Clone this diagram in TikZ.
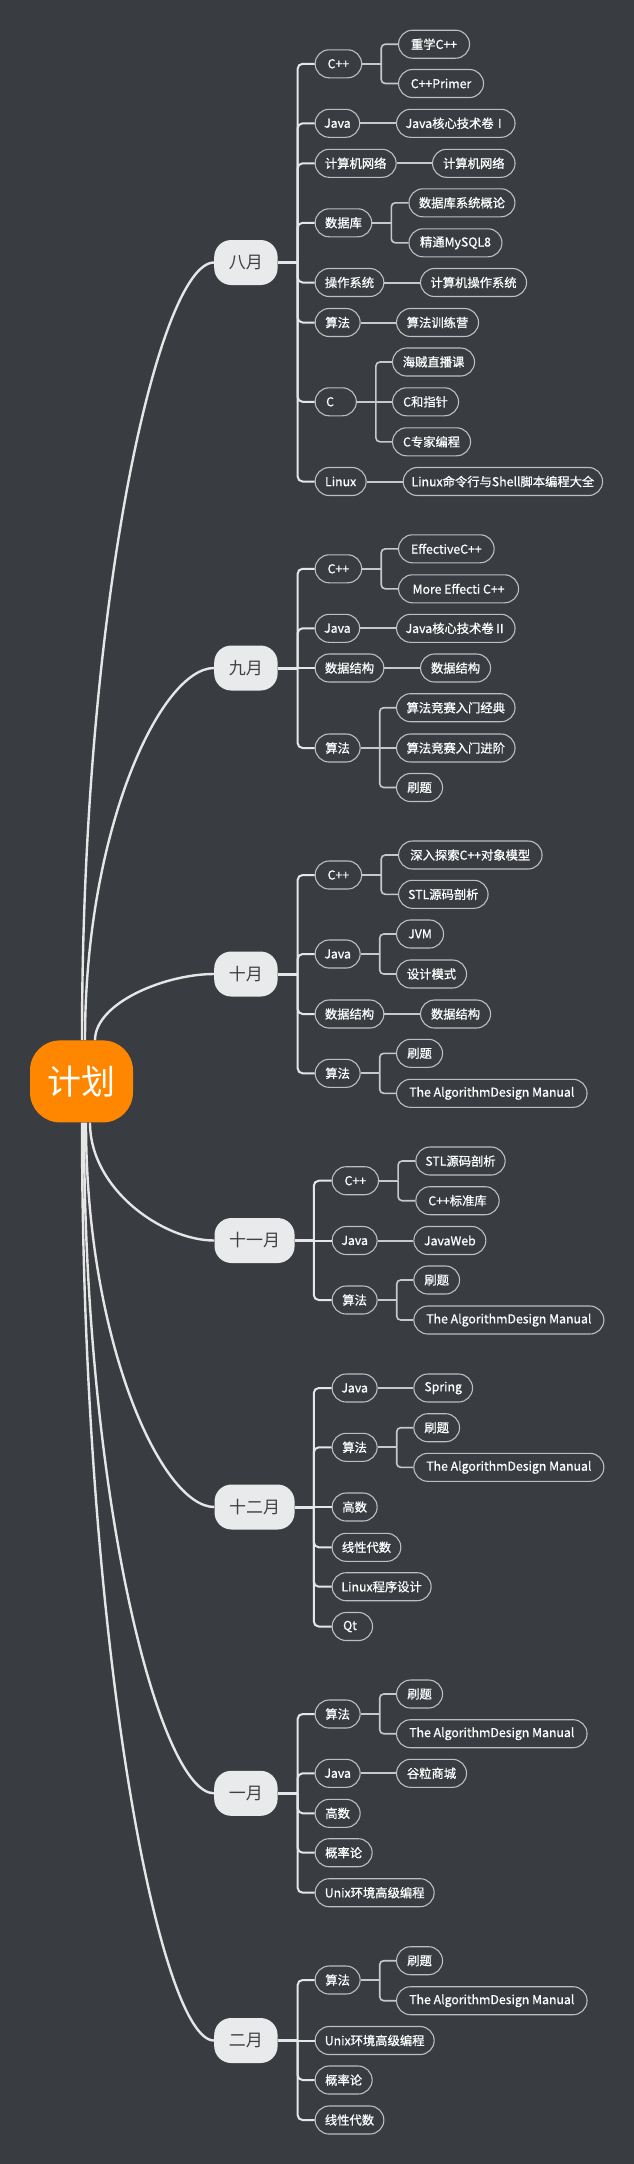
\documentclass[tikz,border=0pt]{standalone}
\usepackage{fontspec}
\setmainfont{Noto Sans CJK SC}
\newfontfamily\subfont{Noto Sans CJK SC}[FakeBold=0.8]
\usetikzlibrary{calc}
\definecolor{bg}{HTML}{393C41}
\definecolor{lineC}{HTML}{E6E6E6}
\definecolor{leafC}{HTML}{C8C8C8}
\definecolor{subline}{HTML}{BEBEBE}
\definecolor{monthfill}{HTML}{E9EAEC}
\definecolor{monthtext}{HTML}{404040}
\definecolor{orangeA}{HTML}{FF8700}
\newcommand\Sub[5]{\node[sub,minimum width=#3pt] (#1) at (#2,#4) {#5};}
\newcommand\Grp[2]{\coordinate (#1j) at ([xshift=19pt]#1.east);
  \draw[leafstub] (#1.east) -- (#1j);
  \foreach \cc in {#2} {\draw[leafline] (#1j) |- (\cc.west);}}
\newcommand\Mid[2]{\draw[leafline] (#1j) -- (#2.west);}
\newcommand\One[2]{\draw[leafstub] (#1.east) -- (#2.west);}
\newcommand\Trk[2]{\foreach \cc in {#2} {\draw[trunk] (#1) |- (\cc.west);}}
\newcommand\TrkMid[2]{\draw[trunk] (#1) -- (#2.west);}
\begin{document}
\begin{tikzpicture}[x=1pt,y=-1pt,
  sub/.style={draw=subline, line width=1.1pt, fill=bg, rounded corners=14pt,
    minimum height=28pt, inner sep=0pt, text=white,
    font=\subfont\fontsize{12.3}{14}\selectfont, anchor=west},
  month/.style={fill=monthfill, rounded corners=17pt, minimum height=45pt,
    inner sep=0pt, text=monthtext, font=\fontsize{17}{20}\selectfont, anchor=west},
  root/.style={fill=orangeA, rounded corners=30pt, minimum width=103pt,
    minimum height=82pt, inner sep=0pt, text=white, font=\fontsize{34}{40}\selectfont},
  mainline/.style={draw=lineC, line width=2.4pt},
  stub/.style={draw=lineC, line width=3pt},
  trunk/.style={draw=lineC, line width=2pt, rounded corners=5pt},
  leafstub/.style={draw=leafC, line width=2pt},
  leafline/.style={draw=leafC, line width=1.6pt, rounded corners=4pt}]
\fill[bg] (0,0) rectangle (634,2164);
\useasboundingbox (0,0) rectangle (634,2164);

% root
\node[root] (root) at (81.5,1081.4) {计划};

% months
\node[month,minimum width=63.4pt] (m8) at (214,262.5) {八月};
\node[month,minimum width=63.4pt] (m9) at (214,668) {九月};
\node[month,minimum width=63.4pt] (m10) at (214,974) {十月};
\node[month,minimum width=80.1pt] (m11) at (214.3,1240.5) {十一月};
\node[month,minimum width=80.1pt] (m12) at (214.3,1507) {十二月};
\node[month,minimum width=63.4pt] (m1) at (214,1793.3) {一月};
\node[month,minimum width=63.4pt] (m2) at (214,2040.5) {二月};

% root curves
\draw[mainline] ([xshift=0.5pt]root.north) .. controls (82,597.3) and (159.9,262.5) .. (m8.west);
\draw[mainline] ([xshift=3.5pt]root.north) .. controls (85,828.4) and (161.1,668) .. (m9.west);
\draw[mainline] ([xshift=13.5pt]root.north) .. controls (95,1002.8) and (165.2,974) .. (m10.west);
\draw[mainline] ([xshift=8.5pt]root.south) .. controls (90,1189.5) and (163.2,1240.5) .. (m11.west);
\draw[mainline] ([xshift=4.5pt]root.south) .. controls (86,1341.5) and (161.5,1507) .. (m12.west);
\draw[mainline] ([xshift=2.5pt]root.south) .. controls (84,1504.6) and (160.7,1793.3) .. (m1.west);
\draw[mainline] ([xshift=0.5pt]root.south) .. controls (82,1645.5) and (159.9,2040.5) .. (m2.west);

% ===== 八月
\Sub{a1}{314.6}{46.5}{63.8}{C++}
\Sub{a1a}{398}{71}{44.2}{重学C++}
\Sub{a1b}{398}{85}{83.5}{C++Primer}
\Sub{a2}{314.6}{44.5}{123.3}{Java}
\Sub{a2a}{396}{118.5}{123.3}{Java核心技术卷Ⅰ}
\Sub{a3}{314.6}{81}{163.3}{计算机网络}
\Sub{a3a}{432}{82.5}{163.3}{计算机网络}
\Sub{a4}{314.6}{56.6}{222.8}{数据库}
\Sub{a4a}{408.4}{106}{202.8}{数据库系统概论}
\Sub{a4b}{408.4}{93}{242.8}{精通MySQL8}
\Sub{a5}{314.6}{68.7}{282.5}{操作系统}
\Sub{a5a}{420}{106}{282.5}{计算机操作系统}
\Sub{a6}{314.6}{45}{322.5}{算法}
\Sub{a6a}{396}{82}{322.5}{算法训练营}
\Sub{a7}{314.6}{41.2}{401.8}{\makebox[19.2pt][l]{C}}
\Sub{a7a}{392}{82}{362}{海贼直播课}
\Sub{a7b}{392}{66}{401.8}{C和指针}
\Sub{a7c}{392}{78}{441.8}{C专家编程}
\Sub{a8}{314.6}{51}{481.5}{Linux}
\Sub{a8a}{402.7}{199.3}{481.5}{Linux命令行与Shell脚本编程大全}
\coordinate (t8) at ([xshift=19.8pt]m8.east);
\draw[stub] (m8.east) -- (t8);
\Trk{t8}{a1,a2,a3,a4,a5,a6,a7,a8}
\Grp{a1}{a1a,a1b}
\One{a2}{a2a}
\One{a3}{a3a}
\Grp{a4}{a4a,a4b}
\One{a5}{a5a}
\One{a6}{a6a}
\Grp{a7}{a7a,a7c}
\Mid{a7}{a7b}
\One{a8}{a8a}

% ===== 九月
\Sub{b1}{314.6}{46.5}{568.8}{C++}
\Sub{b1a}{398}{95.6}{548.8}{EffectiveC++}
\Sub{b1b}{398}{120}{588.8}{More Effecti C++}
\Sub{b2}{314.6}{44.5}{628.3}{Java}
\Sub{b2a}{396}{118.5}{628.3}{Java核心技术卷Ⅱ}
\Sub{b3}{314.6}{68.7}{668}{数据结构}
\Sub{b3a}{420}{70}{668}{数据结构}
\Sub{b4}{314.6}{45}{748}{算法}
\Sub{b4a}{396}{118.5}{707.7}{算法竞赛入门经典}
\Sub{b4b}{396}{118.5}{748}{算法竞赛入门进阶}
\Sub{b4c}{396}{46}{787.5}{刷题}
\coordinate (t9) at ([xshift=19.8pt]m9.east);
\draw[stub] (m9.east) -- (t9);
\Trk{t9}{b1,b2,b4}
\TrkMid{t9}{b3}
\Grp{b1}{b1a,b1b}
\One{b2}{b2a}
\One{b3}{b3a}
\Grp{b4}{b4a,b4c}
\Mid{b4}{b4b}

% ===== 十月
\Sub{c1}{314.6}{46.5}{875}{C++}
\Sub{c1a}{398}{143.5}{855}{深入探索C++对象模型}
\Sub{c1b}{398}{89.5}{894.3}{STL源码剖析}
\Sub{c2}{314.6}{45}{954}{Java}
\Sub{c2a}{396}{47}{934}{JVM}
\Sub{c2b}{396}{70}{974}{设计模式}
\Sub{c3}{314.6}{68.7}{1014}{数据结构}
\Sub{c3a}{420}{70}{1014}{数据结构}
\Sub{c4}{314.6}{45}{1073.3}{算法}
\Sub{c4a}{396}{46}{1053.3}{刷题}
\Sub{c4b}{396}{190.5}{1093.3}{The AlgorithmDesign Manual}
\coordinate (t10) at ([xshift=19.8pt]m10.east);
\draw[stub] (m10.east) -- (t10);
\Trk{t10}{c1,c2,c3,c4}
\Grp{c1}{c1a,c1b}
\Grp{c2}{c2a,c2b}
\One{c3}{c3a}
\Grp{c4}{c4a,c4b}

% ===== 十一月
\Sub{d1}{331.6}{46.4}{1180.7}{C++}
\Sub{d1a}{415.3}{89.3}{1161}{STL源码剖析}
\Sub{d1b}{415.3}{83.3}{1200.7}{C++标准库}
\Sub{d2}{331.6}{45}{1240.5}{Java}
\Sub{d2a}{413.3}{72}{1240.5}{JavaWeb}
\Sub{d3}{331.6}{45}{1300}{算法}
\Sub{d3a}{413.3}{45.7}{1280}{刷题}
\Sub{d3b}{413.3}{190}{1320}{The AlgorithmDesign Manual}
\coordinate (t11) at ([xshift=19pt]m11.east);
\draw[stub] (m11.east) -- (t11);
\Trk{t11}{d1,d3}
\TrkMid{t11}{d2}
\Grp{d1}{d1a,d1b}
\One{d2}{d2a}
\Grp{d3}{d3a,d3b}

% ===== 十二月
\Sub{e1}{331.6}{45}{1388}{Java}
\Sub{e1a}{413.3}{58.7}{1388}{Spring}
\Sub{e2}{331.6}{45}{1447.3}{算法}
\Sub{e2a}{413.3}{45.7}{1427.7}{刷题}
\Sub{e2b}{413.3}{190}{1467.3}{The AlgorithmDesign Manual}
\Sub{e3}{331.6}{45}{1507}{高数}
\Sub{e4}{331.6}{68.7}{1547.3}{线性代数}
\Sub{e5}{331.6}{99}{1586.7}{Linux程序设计}
\Sub{e6}{331.6}{40.4}{1626.5}{\makebox[18.4pt][l]{Qt}}
\coordinate (t12) at ([xshift=19pt]m12.east);
\draw[stub] (m12.east) -- (t12);
\Trk{t12}{e1,e2,e4,e5,e6}
\TrkMid{t12}{e3}
\One{e1}{e1a}
\Grp{e2}{e2a,e2b}

% ===== 一月
\Sub{f1}{314.6}{45}{1714}{算法}
\Sub{f1a}{396}{46}{1694}{刷题}
\Sub{f1b}{396}{190.5}{1733.7}{The AlgorithmDesign Manual}
\Sub{f2}{314.6}{45}{1773.3}{Java}
\Sub{f2a}{396}{70}{1773.3}{谷粒商城}
\Sub{f3}{314.6}{45}{1813.3}{高数}
\Sub{f4}{314.6}{57}{1852.7}{概率论}
\Sub{f5}{314.6}{119}{1892.7}{Unix环境高级编程}
\coordinate (t1) at ([xshift=19.8pt]m1.east);
\draw[stub] (m1.east) -- (t1);
\Trk{t1}{f1,f2,f3,f4,f5}
\Grp{f1}{f1a,f1b}
\One{f2}{f2a}

% ===== 二月
\Sub{g1}{314.6}{45}{1980}{算法}
\Sub{g1a}{396}{46}{1960.7}{刷题}
\Sub{g1b}{396}{190.5}{2000.7}{The AlgorithmDesign Manual}
\Sub{g2}{314.6}{119}{2040.5}{Unix环境高级编程}
\Sub{g3}{314.6}{57}{2080}{概率论}
\Sub{g4}{314.6}{68.7}{2120}{线性代数}
\coordinate (t2) at ([xshift=19.8pt]m2.east);
\draw[stub] (m2.east) -- (t2);
\Trk{t2}{g1,g3,g4}
\TrkMid{t2}{g2}
\Grp{g1}{g1a,g1b}
\end{tikzpicture}
\end{document}
